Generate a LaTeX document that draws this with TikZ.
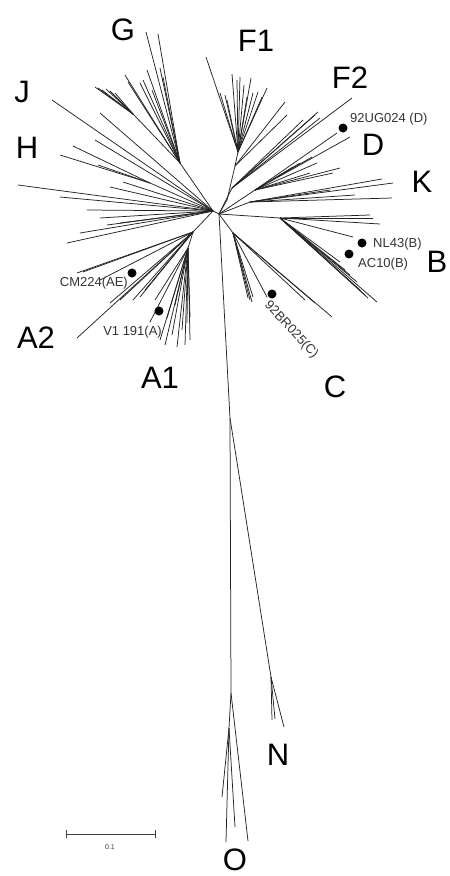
\documentclass[tikz,border=0pt]{standalone}
\usepackage{fontspec}
\setmainfont{Liberation Sans}
\definecolor{treegray}{RGB}{35,35,35}
\tikzset{
  branch/.style={draw=treegray,line width=0.75pt},
  clade/.style={font=\fontsize{31}{31}\selectfont,text=black,inner sep=0pt},
  strain/.style={font=\fontsize{13}{13}\selectfont,text=black!80,inner sep=0pt},
  refdot/.style={circle,fill=black,inner sep=0pt,minimum size=9pt}
}

\begin{document}
\begin{tikzpicture}[x=1pt,y=-1pt]
\useasboundingbox (0,0) rectangle (450,876);

\coordinate (ctr) at (213,211);
\coordinate (ctrR) at (219,214);
\coordinate (ghub) at (180,163);
\coordinate (gsub) at (133,114);
\coordinate (hsub) at (150,183);
\coordinate (ahub) at (193,232);
\coordinate (aonehub) at (188,248);
\coordinate (fonelow) at (227,200);
\coordinate (fonemid) at (235,166);
\coordinate (fonehub) at (238,152);
\coordinate (ftwohub) at (232,188);
\coordinate (dhub) at (255,190);
\coordinate (khub) at (250,202);
\coordinate (bhub) at (280,218);
\coordinate (chub) at (233,233);
\coordinate (nsplit) at (230,418);
\coordinate (nhub) at (271,677);
\coordinate (ohub) at (231,693);
\coordinate (osub) at (229,728);

\draw[branch] (ctr) -- (ctrR);
\draw[branch] (ctr) -- (ghub) -- (gsub);
\draw[branch] (ctr) -- (hsub);
\draw[branch] (ctr) -- (ahub) -- (aonehub);
\draw[branch] (ctrR) -- (fonelow) -- (fonemid) -- (fonehub);
\draw[branch] (ctrR) -- (ftwohub);
\draw[branch] (ctrR) -- (dhub);
\draw[branch] (ctrR) -- (khub);
\draw[branch] (ctrR) -- (bhub);
\draw[branch] (ctrR) -- (chub);
\draw[branch] (ctrR) -- (nsplit) -- (ohub) -- (osub);
\draw[branch] (nsplit) -- (nhub);

\foreach \x/\y in {146/32,158/34,147/70,160/68,163/77,125/75,128/82,140/83,143/80,152/90}
  \draw[branch] (ghub) -- (\x,\y);
\foreach \x/\y in {95/87,98/88,102/90,106/89,110/91,115/93}
  \draw[branch] (gsub) -- (\x,\y);
\foreach \x/\y in {52/100,100/113,95/140,18/185,60/197,87/210,100/218,67/243,80/233,107/225,120/223,123/182,110/187}
  \draw[branch] (ctr) -- (\x,\y);
\foreach \x/\y in {73/146,60/155,98/165}
  \draw[branch] (hsub) -- (\x,\y);
\foreach \x/\y in {77/273,83/272,77/338,100/280,110/303,120/300,133/300,140/297,145/290}
  \draw[branch] (ahub) -- (\x,\y);
\foreach \x/\y in {150/322,155/300,160/340,165/345,167/318,172/335,175/305,177/347,182/330,185/345,187/323,190/317,190/340}
  \draw[branch] (aonehub) -- (\x,\y);
\foreach \x/\y in {206/57,220/93,225/95,227/100,232/74,237/80,240/77,244/85,247/97,251/78,253/93,258/92,262/97,267/88}
  \draw[branch] (fonehub) -- (\x,\y);
\foreach \x/\y in {285/102,287/115}
  \draw[branch] (fonemid) -- (\x,\y);
\foreach \x/\y in {352/98,318/112,315/115,320/118,303/120}
  \draw[branch] (ftwohub) -- (\x,\y);
\foreach \x/\y in {337/133,350/137,317/163,340/168,333/173,310/173,300/163,312/157,293/167}
  \draw[branch] (dhub) -- (\x,\y);
\foreach \x/\y in {382/179,393/183,392/198,355/195,330/190}
  \draw[branch] (khub) -- (\x,\y);
\foreach \x/\y in {370/215,373/218,380/224,353/237,377/302,368/298,365/295,360/290,357/282,350/275,345/270,340/262}
  \draw[branch] (bhub) -- (\x,\y);
\foreach \x/\y in {332/317,315/303,305/300,267/297,248/298,250/300,252/302,253/297}
  \draw[branch] (chub) -- (\x,\y);
\foreach \x/\y in {272/720,275/719,284/727}
  \draw[branch] (nhub) -- (\x,\y);
\foreach \x/\y in {222/797,226/842,235/827}
  \draw[branch] (osub) -- (\x,\y);
\draw[branch] (ohub) -- (248,841);

\node[refdot] (dotD) at (343,128) {};
\node[refdot] (dotNL) at (362,243) {};
\node[refdot] (dotAC) at (349,254) {};
\node[refdot] (dotCM) at (132,273) {};
\node[refdot] (dotVone) at (159,311) {};
\node[refdot] (dotC) at (272,294) {};

\node[strain,anchor=west] (labD) at (350,119) {92UG024 (D)};
\node[strain,anchor=west] (labNL) at (373,244) {NL43(B)};
\node[strain,anchor=west] (labAC) at (358,264) {AC10(B)};
\node[strain,anchor=east] (labCM) at (128,283) {CM224(AE)};
\node[strain,anchor=east] (labVone) at (162,332) {V1 191(A)};
\node[strain,anchor=north west,rotate=-47] (labC) at (271,299) {92BR025(C)};

\node[clade] (cG) at (123,30) {G};
\node[clade] (cFone) at (256,41) {F1};
\node[clade] (cFtwo) at (350,78) {F2};
\node[clade] (cJ) at (22,92) {J};
\node[clade] (cH) at (27,148) {H};
\node[clade] (cD) at (373,145) {D};
\node[clade] (cK) at (422,182) {K};
\node[clade] (cB) at (437,262) {B};
\node[clade] (cAtwo) at (36,338) {A2};
\node[clade] (cAone) at (160,378) {A1};
\node[clade] (cC) at (335,387) {C};
\node[clade] (cN) at (278,755) {N};
\node[clade] (cO) at (235,860) {O};

\coordinate (sbL) at (66,834);
\coordinate (sbR) at (155,834);
\draw[branch,black!75] (sbL) -- (sbR);
\draw[branch,black!75] ([yshift=-4pt]sbL) -- ([yshift=4pt]sbL);
\draw[branch,black!75] ([yshift=-4pt]sbR) -- ([yshift=4pt]sbR);
\node[font=\fontsize{7}{7}\selectfont,text=black!75] (sbtxt) at (110,847) {0.1};
\end{tikzpicture}
\end{document}
